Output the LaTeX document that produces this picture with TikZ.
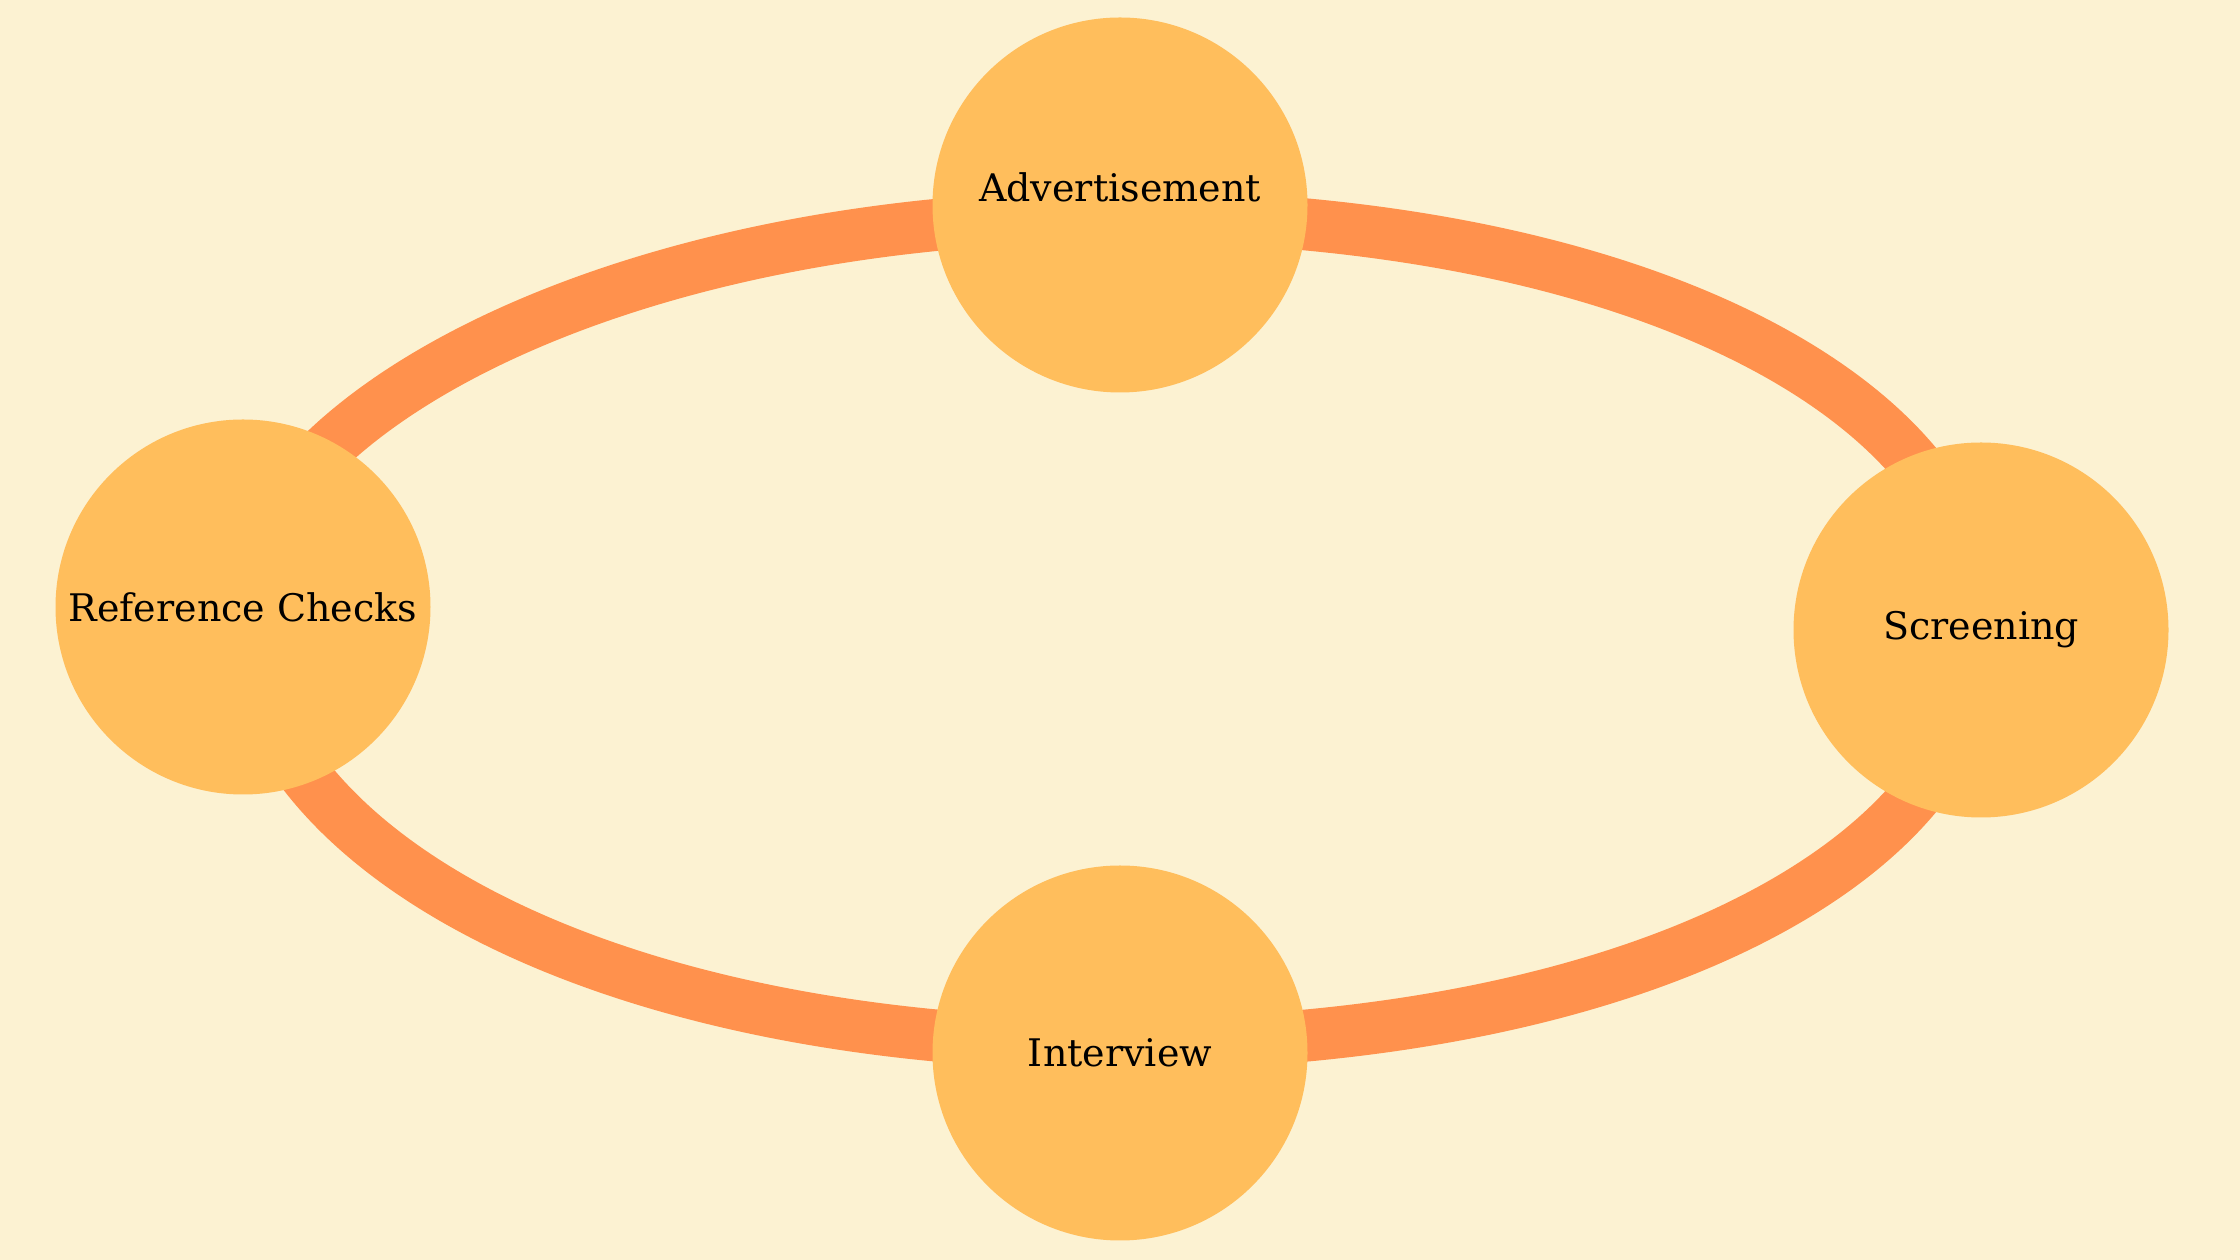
\documentclass[tikz,border=0pt]{standalone}
\usepackage{fontspec}
\setmainfont{DejaVu Serif}
\definecolor{bgc}{HTML}{FCF2D2}
\definecolor{nodefill}{HTML}{FFBE5C}
\definecolor{edgec}{HTML}{FF914D}
\pgfdeclarelayer{back}
\pgfdeclarelayer{edges}
\pgfsetlayers{back,edges,main}
\begin{document}
\begin{tikzpicture}[x=1pt,y=1pt,
  stage/.style={circle, fill=nodefill, minimum size=375pt, inner sep=0pt},
  lbl/.style={font=\fontsize{38}{45}\selectfont, text=black, inner sep=0pt},
  link/.style={draw=edgec, line width=52pt}]
\begin{pgfonlayer}{back}
\fill[bgc] (0,0) rectangle (2240,1260);
\end{pgfonlayer}
\useasboundingbox (0,0) rectangle (2240,1260);
\node[stage] (adv) at (1120,1055) {};
\node[stage] (ref) at (243,653) {};
\node[stage] (scr) at (1981,630) {};
\node[stage] (int) at (1120,207) {};
\node[lbl] (advt) at ([yshift=18pt]adv.center) {Advertisement};
\node[lbl] (reft) at (ref.center) {Reference Checks};
\node[lbl] (scrt) at (scr.center) {Screening};
\node[lbl] (intt) at (int.center) {Interview};
\begin{pgfonlayer}{edges}
\draw[link] (ref.center) .. controls +(0,180) and +(-526,0) .. ([yshift=-11pt]adv.center);
\draw[link] ([yshift=-11pt]adv.center) .. controls +(517,0) and +(0,230) .. (scr.center);
\draw[link] (scr.center) .. controls +(0,-230) and +(517,0) .. ([yshift=9pt]int.center);
\draw[link] ([yshift=9pt]int.center) .. controls +(-526,0) and +(0,-240) .. (ref.center);
\end{pgfonlayer}
\end{tikzpicture}
\end{document}
